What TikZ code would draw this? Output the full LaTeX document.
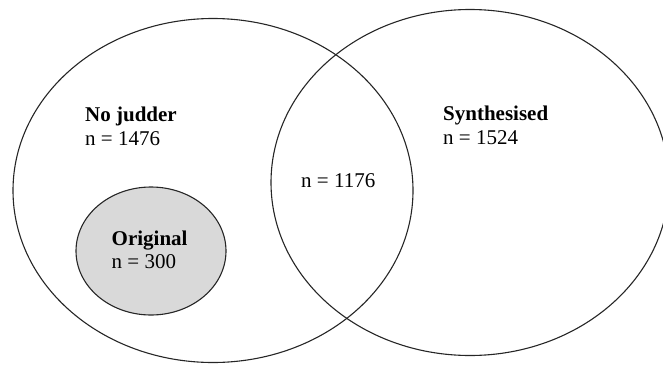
\documentclass[tikz,border=0pt]{standalone}
\usepackage{fontspec}
\setmainfont{Liberation Serif}
\usetikzlibrary{shapes.geometric}
\definecolor{origfill}{HTML}{D9D9D9}
\tikzset{
  setshape/.style={ellipse, draw=black!85, line width=1.1pt, inner sep=0pt},
  lbl/.style={anchor=base west, inner sep=0pt, font=\fontsize{21}{24}\selectfont, align=left}
}
\begin{document}
\begin{tikzpicture}[x=1pt,y=-1pt]
\useasboundingbox (0,0) rectangle (663,364);
\node[setshape, minimum width=400pt, minimum height=344pt] (nojud) at (213,190.5) {};
\node[setshape, minimum width=398pt, minimum height=346pt] (synth) at (470,182.5) {};
\node[setshape, fill=origfill, minimum width=150pt, minimum height=128pt] (orig) at (151,251) {};
\node[lbl] (nojudt) at (85,121.7) {\textbf{No judder}};
\node[lbl] (nojudn) at (85,145) {n = 1476};
\node[lbl] (syntht) at (443,120) {\textbf{Synthesised}};
\node[lbl] (synthn) at (443,144) {n = 1524};
\node[lbl] (both) at (301,187.3) {n = 1176};
\node[lbl] (origt) at (111.5,245) {\textbf{Original}};
\node[lbl] (orign) at (111.5,268) {n = 300};
\end{tikzpicture}
\end{document}
